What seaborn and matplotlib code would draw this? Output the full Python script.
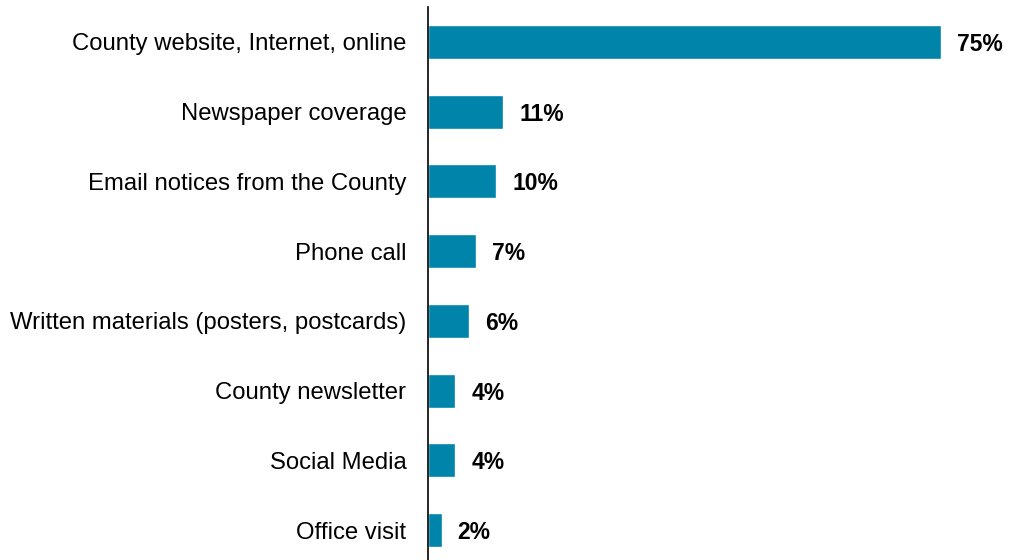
import pandas as pd
import matplotlib
matplotlib.use("Agg")
import matplotlib.pyplot as plt
import seaborn as sns

# datos del grafico
categorias = ["County website, Internet, online", "Newspaper coverage",
              "Email notices from the County", "Phone call",
              "Written materials (posters, postcards)", "County newsletter",
              "Social Media", "Office visit"]
valores = [75, 11, 10, 7, 6, 4, 4, 2]
etiquetas = ["75%", "11%", "10%", "7%", "6%", "4%", "4%", "2%"]

df = pd.DataFrame({"cat": categorias, "val": valores})

sns.set_style("white")
plt.rcParams["font.family"] = ["Liberation Sans", "DejaVu Sans"]
plt.rcParams["text.color"] = "black"
plt.rcParams["ytick.color"] = "black"

fig = plt.figure(figsize=(10.09, 5.6), dpi=100)
ax = fig.add_axes([428 / 1009, -5 / 560, 581 / 1009, 558 / 560])

sns.barplot(data=df, y="cat", x="val", color="#0084A9", width=0.49,
            saturation=1, ax=ax)

for i, v in enumerate(valores):
    ax.annotate(etiquetas[i], (v, i), xytext=(16, 0), textcoords="offset pixels",
                va="center_baseline", ha="left", fontsize=16.5, fontweight="bold",
                color="black", annotation_clip=False)

ax.set_xlim(0, 581 / 6.84)
ax.set_ylim(7.5, -0.5)
ax.set_xlabel("")
ax.set_ylabel("")
ax.set_xticks([])
ax.tick_params(axis="y", length=0, pad=15.5, labelsize=17.2, labelcolor="black")
for s in ["top", "right", "bottom"]:
    ax.spines[s].set_visible(False)
ax.spines["left"].set_color("black")
ax.spines["left"].set_linewidth(1.2)

fig.savefig("out.png", dpi=100)
